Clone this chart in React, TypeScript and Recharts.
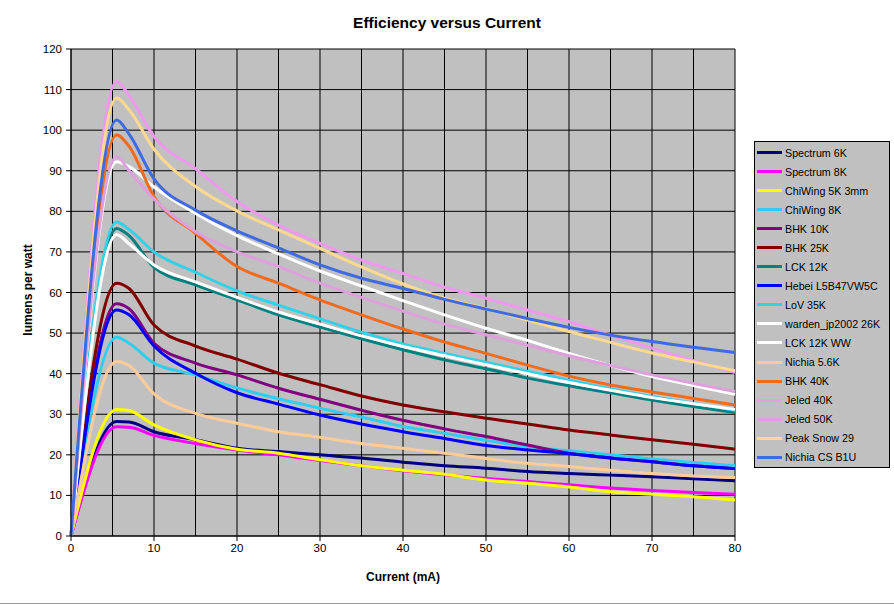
import React from 'react';
import { LineChart, Line, XAxis, YAxis, CartesianGrid } from 'recharts';

// current in mA, shared by every series
const currentMa = [0, 5.5, 7, 10, 15, 20, 25, 30, 35, 40, 45, 50, 55, 60, 65, 70, 75, 80];

// lumens per watt
const spectrum6K = [0, 28.2, 28.1, 25.7, 23.7, 21.6, 20.8, 20.0, 19.2, 18.2, 17.3, 16.7, 15.9, 15.4, 15.0, 14.6, 14.1, 13.6];
const spectrum8K = [0, 26.9, 26.8, 24.8, 22.8, 21.2, 20.0, 18.6, 17.3, 16.1, 15.1, 14.2, 13.4, 12.6, 11.8, 11.2, 10.7, 10.3];
const chiWing5K3mm = [0, 31.2, 30.9, 27.4, 23.7, 21.4, 20.4, 18.8, 17.3, 16.2, 15.2, 13.8, 13.0, 12.1, 10.9, 10.3, 9.7, 8.9];
const chiWing8K = [0, 49.0, 47.5, 42.6, 39.7, 36.5, 33.8, 31.5, 29.3, 27.0, 25.3, 23.6, 22.0, 21.0, 20.0, 19.0, 18.1, 17.3];
const bhk10K = [0, 57.2, 56.0, 47.5, 42.6, 39.7, 36.4, 33.7, 31.0, 28.5, 26.4, 24.5, 22.4, 20.4, 19.2, 18.3, 17.3, 16.6];
const bhk25K = [0, 62.3, 61.0, 52.0, 46.8, 43.6, 40.1, 37.3, 34.5, 32.3, 30.6, 29.0, 27.6, 26.1, 24.9, 23.7, 22.6, 21.4];
const lck12K = [0, 75.8, 74.0, 66.2, 61.9, 58.2, 54.5, 51.5, 48.6, 45.9, 43.4, 41.2, 38.9, 37.0, 35.3, 33.5, 31.9, 30.4];
const hebei = [0, 55.7, 54.5, 46.8, 40.1, 35.3, 32.5, 29.8, 27.6, 25.7, 24.0, 22.3, 21.2, 20.3, 19.2, 18.3, 17.3, 16.6];
const lov35K = [0, 77.4, 75.5, 70.0, 65.0, 60.4, 56.9, 53.5, 50.2, 47.3, 45.0, 42.8, 40.6, 38.4, 36.3, 34.4, 32.7, 31.0];
const warden26K = [0, 92.2, 91.0, 86.0, 79.5, 74.0, 69.5, 65.3, 61.6, 58.0, 54.5, 51.2, 48.2, 45.0, 42.0, 39.3, 37.1, 34.9];
const lck12KWW = [0, 74.2, 72.0, 66.8, 62.6, 58.8, 55.2, 52.2, 49.3, 46.7, 44.4, 42.2, 40.0, 37.8, 35.9, 34.1, 32.6, 31.2];
const nichia56K = [0, 43.0, 42.0, 35.0, 30.2, 27.8, 25.7, 24.3, 22.8, 21.6, 20.4, 19.1, 17.9, 17.1, 16.2, 15.4, 14.8, 14.4];
const bhk40K = [0, 98.8, 96.0, 83.6, 74.6, 66.4, 62.3, 58.2, 54.5, 51.0, 47.8, 45.0, 42.1, 39.4, 37.2, 35.5, 33.9, 32.3];
const jeled40K = [0, 112.0, 108.5, 98.4, 90.5, 82.4, 76.6, 72.1, 68.0, 64.7, 61.3, 58.6, 55.7, 52.8, 49.5, 46.3, 43.2, 40.3];
const jeled50K = [0, 93.5, 90.0, 83.0, 75.0, 70.0, 66.4, 62.3, 58.8, 55.4, 52.2, 49.6, 47.0, 44.4, 42.0, 39.7, 37.6, 35.6];
const peakSnow29 = [0, 107.9, 105.0, 95.3, 86.1, 80.1, 75.4, 70.9, 66.3, 62.1, 58.6, 56.0, 53.2, 50.4, 47.7, 45.1, 42.9, 40.7];
const nichiaCSB1U = [0, 102.5, 99.0, 88.0, 80.3, 75.2, 71.0, 66.8, 63.5, 61.0, 58.3, 55.9, 53.6, 51.4, 49.5, 47.9, 46.5, 45.2];

const seriesList = [
  { name: 'Spectrum 6K', color: '#000080', values: spectrum6K },
  { name: 'Spectrum 8K', color: '#FF00FF', values: spectrum8K },
  { name: 'ChiWing 5K 3mm', color: '#FFFF00', values: chiWing5K3mm },
  { name: 'ChiWing 8K', color: '#33CCEE', values: chiWing8K },
  { name: 'BHK 10K', color: '#800080', values: bhk10K },
  { name: 'BHK 25K', color: '#800000', values: bhk25K },
  { name: 'LCK 12K', color: '#008080', values: lck12K },
  { name: 'Hebei L5B47VW5C', color: '#0000FF', values: hebei },
  { name: 'LoV 35K', color: '#33D0E8', values: lov35K },
  { name: 'warden_jp2002 26K', color: '#FFFFFF', values: warden26K },
  { name: 'LCK 12K WW', color: '#FFFFFF', values: lck12KWW },
  { name: 'Nichia 5.6K', color: '#FFCC99', values: nichia56K },
  { name: 'BHK 40K', color: '#F26B1D', values: bhk40K },
  { name: 'Jeled 40K', color: '#EE99EE', values: jeled40K },
  { name: 'Jeled 50K', color: '#DDA0DD', values: jeled50K },
  { name: 'Peak Snow 29', color: '#FFD98F', values: peakSnow29 },
  { name: 'Nichia CS B1U', color: '#3F6AE0', values: nichiaCSB1U },
];

const xTicks = [0, 10, 20, 30, 40, 50, 60, 70, 80];
const xGrid = [0, 5, 10, 15, 20, 25, 30, 35, 40, 45, 50, 55, 60, 65, 70, 75, 80];
const yTicks = [0, 10, 20, 30, 40, 50, 60, 70, 80, 90, 100, 110, 120];
const yGrid = [0, 5, 10, 15, 20, 25, 30, 35, 40, 45, 50, 55, 60, 65, 70, 75, 80, 85, 90, 95, 100, 105, 110, 115, 120];

const rows = currentMa.map((x, i) => {
  const row: any = { current: x };
  seriesList.forEach((s, k) => {
    row['s' + k] = s.values[i];
  });
  return row;
});

const font = '"Liberation Sans", Arial, sans-serif';

export default function App() {
  return (
    <div style={{ position: 'absolute', left: 0, top: 0, width: 894, height: 606, background: '#fff', fontFamily: font }}>
      <LineChart width={894} height={606} data={rows} margin={{ top: 49, right: 159, bottom: 40, left: 31 }}>
        <CartesianGrid
          fill="#C0C0C0"
          stroke="#000"
          strokeWidth={1}
          horizontalValues={yGrid}
          verticalValues={xGrid}
        />
        <XAxis
          dataKey="current"
          type="number"
          domain={[0, 80]}
          ticks={xTicks}
          height={30}
          tickSize={5}
          tickMargin={3}
          axisLine={{ stroke: '#000' }}
          tickLine={{ stroke: '#000' }}
          tick={{ fill: '#000', fontSize: 11.5, fontFamily: font }}
        />
        <YAxis
          type="number"
          domain={[0, 120]}
          ticks={yTicks}
          width={40}
          tickSize={5}
          tickMargin={4}
          axisLine={{ stroke: '#000' }}
          tickLine={{ stroke: '#000' }}
          tick={{ fill: '#000', fontSize: 11.5, fontFamily: font }}
        />
        {seriesList.map((s, k) => (
          <Line
            key={s.name}
            dataKey={'s' + k}
            name={s.name}
            type="monotone"
            stroke={s.color}
            strokeWidth={3}
            dot={false}
            activeDot={false}
            isAnimationActive={false}
          />
        ))}
      </LineChart>

      <div style={{ position: 'absolute', left: 0, top: 14, width: 894, textAlign: 'center', fontWeight: 'bold', fontSize: 15.5 }}>
        Efficiency versus Current
      </div>
      <div style={{ position: 'absolute', left: 71, top: 570, width: 664, textAlign: 'center', fontWeight: 'bold', fontSize: 12 }}>
        Current (mA)
      </div>
      <div
        style={{
          position: 'absolute',
          left: 28,
          top: 290,
          transform: 'translate(-50%, -50%) rotate(-90deg)',
          whiteSpace: 'nowrap',
          fontWeight: 'bold',
          fontSize: 12,
        }}
      >
        lumens per watt
      </div>

      {/* Legend */}
      <div
        style={{
          position: 'absolute',
          left: 754,
          top: 141,
          width: 136,
          height: 327,
          boxSizing: 'border-box',
          background: '#C0C0C0',
          border: '1px solid #000',
          paddingTop: 1,
        }}
      >
        {seriesList.map((s) => (
          <div key={s.name} style={{ display: 'flex', alignItems: 'center', height: 19.06 }}>
            <div style={{ width: 25, height: 3, marginLeft: 2, background: s.color }} />
            <span style={{ marginLeft: 3, fontSize: 10.7, color: '#000', whiteSpace: 'nowrap' }}>{s.name}</span>
          </div>
        ))}
      </div>
      <div style={{ position: 'absolute', left: 0, top: 603, width: 894, height: 1, background: '#999' }} />
    </div>
  );
}
